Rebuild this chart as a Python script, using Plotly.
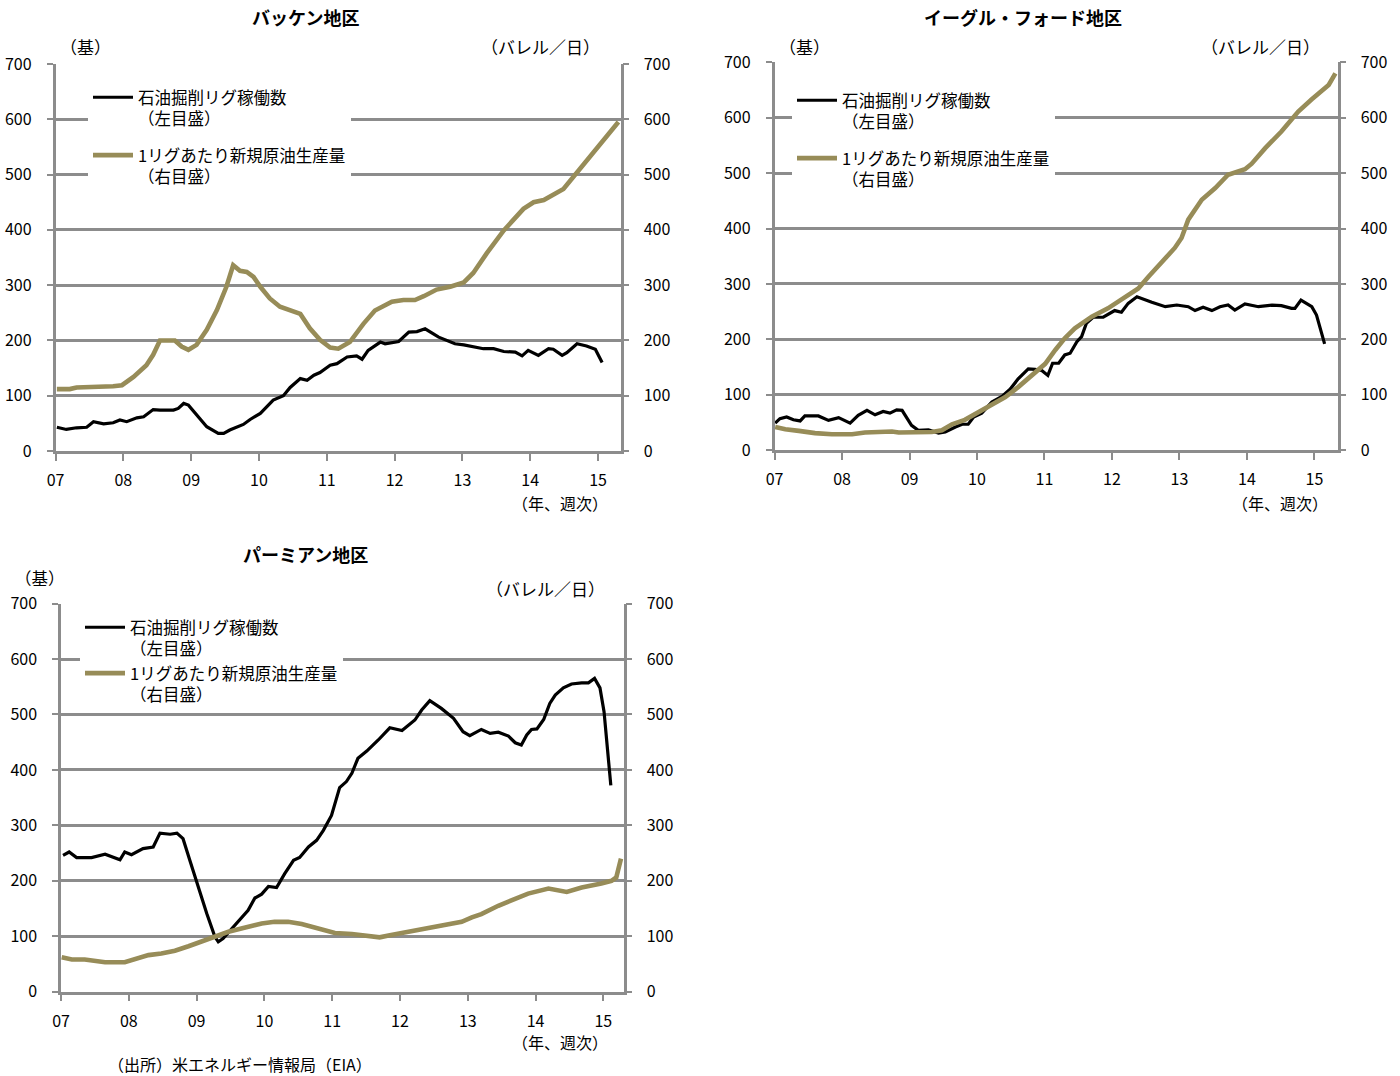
import plotly.graph_objects as go

# ---------------- data ----------------
# Bakken
bk_rig_x = [2007.02, 2007.16, 2007.31, 2007.46, 2007.56, 2007.71, 2007.85, 2007.95, 2008.05, 2008.20,
            2008.30, 2008.44, 2008.54, 2008.74, 2008.81, 2008.89, 2008.96, 2009.08, 2009.23, 2009.40,
            2009.48, 2009.57, 2009.77, 2009.87, 2010.02, 2010.21, 2010.36, 2010.46, 2010.61, 2010.71,
            2010.81, 2010.90, 2011.05, 2011.15, 2011.30, 2011.44, 2011.52, 2011.61, 2011.79, 2011.86,
            2012.06, 2012.21, 2012.33, 2012.45, 2012.65, 2012.89, 2013.02, 2013.31, 2013.46, 2013.61,
            2013.78, 2013.88, 2013.97, 2014.12, 2014.27, 2014.34, 2014.47, 2014.54, 2014.69, 2014.83,
            2014.96, 2015.06]
bk_rig_y = [43, 39, 42, 43, 53, 49, 51, 56, 53, 60,
            62, 75, 74, 74, 77, 86, 83, 65, 44, 32,
            32, 38, 48, 57, 68, 92, 100, 115, 131, 128,
            137, 142, 155, 158, 170, 172, 166, 182, 197, 194,
            198, 215, 216, 221, 206, 194, 192, 185, 185, 180,
            179, 172, 182, 173, 185, 184, 173, 178, 194, 190,
            184, 160]
bk_prod_x = [2007.02, 2007.21, 2007.31, 2007.56, 2007.66, 2007.85, 2007.98, 2008.15, 2008.34, 2008.44,
             2008.54, 2008.76, 2008.86, 2008.96, 2009.08, 2009.23, 2009.38, 2009.52, 2009.62, 2009.72,
             2009.82, 2009.92, 2010.02, 2010.16, 2010.31, 2010.46, 2010.61, 2010.75, 2010.90, 2011.05,
             2011.17, 2011.34, 2011.54, 2011.71, 2011.96, 2012.13, 2012.30, 2012.43, 2012.62, 2012.82,
             2013.02, 2013.16, 2013.36, 2013.61, 2013.90, 2014.05, 2014.20, 2014.49, 2014.69, 2014.88,
             2015.08, 2015.30]
bk_prod_y = [112, 112, 115, 115, 117, 117, 119, 134, 155, 174,
             200, 200, 189, 183, 192, 219, 255, 297, 336, 326,
             324, 315, 297, 276, 261, 254, 248, 222, 201, 187,
             185, 197, 230, 254, 270, 273, 273, 280, 292, 297,
             305, 322, 358, 399, 438, 450, 454, 474, 504, 530,
             561, 595]

# Eagle Ford
ef_rig_x = [2007.01, 2007.08, 2007.18, 2007.28, 2007.38, 2007.45, 2007.65, 2007.80, 2007.95, 2008.12,
            2008.24, 2008.37, 2008.49, 2008.61, 2008.71, 2008.81, 2008.89, 2009.03, 2009.13, 2009.28,
            2009.43, 2009.53, 2009.68, 2009.78, 2009.87, 2009.95, 2010.07, 2010.22, 2010.37, 2010.49,
            2010.61, 2010.76, 2010.86, 2010.96, 2011.05, 2011.12, 2011.21, 2011.30, 2011.38, 2011.48,
            2011.55, 2011.62, 2011.72, 2011.87, 2012.04, 2012.14, 2012.24, 2012.37, 2012.59, 2012.79,
            2012.96, 2013.13, 2013.23, 2013.35, 2013.48, 2013.60, 2013.72, 2013.82, 2013.97, 2014.17,
            2014.37, 2014.51, 2014.66, 2014.71, 2014.80, 2014.96, 2015.03, 2015.08, 2015.15]
ef_rig_y = [49, 57, 60, 55, 53, 62, 62, 54, 59, 49,
            63, 72, 64, 70, 67, 73, 72, 45, 36, 37,
            31, 33, 42, 47, 47, 60, 67, 87, 97, 110,
            129, 147, 146, 144, 135, 157, 157, 172, 175, 196,
            205, 229, 240, 240, 252, 249, 265, 277, 267, 259,
            262, 259, 252, 258, 252, 259, 262, 253, 264, 259,
            262, 261, 256, 256, 271, 259, 244, 223, 192]
ef_prod_x = [2007.01, 2007.16, 2007.36, 2007.60, 2007.85, 2008.15, 2008.34, 2008.54, 2008.74, 2008.84,
             2009.08, 2009.33, 2009.48, 2009.63, 2009.82, 2010.02, 2010.22, 2010.42, 2010.61, 2010.81,
             2011.01, 2011.16, 2011.30, 2011.45, 2011.70, 2011.94, 2012.19, 2012.39, 2012.54, 2012.74,
             2012.93, 2013.03, 2013.13, 2013.33, 2013.53, 2013.72, 2013.97, 2014.07, 2014.27, 2014.51,
             2014.76, 2014.96, 2015.21, 2015.31]
ef_prod_y = [42, 38, 35, 31, 29, 29, 32, 34, 34, 32,
             32, 33, 36, 47, 55, 69, 83, 96, 114, 135,
             156, 181, 202, 220, 241, 256, 277, 292, 313, 340,
             365, 383, 416, 452, 473, 497, 507, 517, 545, 575,
             611, 633, 659, 680]

# Permian
pm_rig_x = [2007.03, 2007.12, 2007.23, 2007.45, 2007.65, 2007.77, 2007.87, 2007.94, 2008.04, 2008.21,
            2008.36, 2008.46, 2008.61, 2008.71, 2008.80, 2008.90, 2009.02, 2009.15, 2009.27, 2009.32,
            2009.39, 2009.52, 2009.64, 2009.76, 2009.86, 2009.96, 2010.06, 2010.18, 2010.30, 2010.43,
            2010.52, 2010.65, 2010.77, 2010.87, 2010.99, 2011.04, 2011.11, 2011.21, 2011.29, 2011.38,
            2011.51, 2011.68, 2011.85, 2012.03, 2012.15, 2012.22, 2012.32, 2012.44, 2012.61, 2012.79,
            2012.93, 2013.03, 2013.20, 2013.33, 2013.45, 2013.60, 2013.70, 2013.79, 2013.87, 2013.94,
            2014.02, 2014.12, 2014.21, 2014.29, 2014.41, 2014.53, 2014.68, 2014.78, 2014.87, 2014.95,
            2015.01, 2015.06, 2015.11]
pm_rig_y = [246, 252, 242, 242, 248, 243, 238, 252, 247, 258,
            261, 286, 284, 286, 276, 237, 189, 141, 99, 90,
            96, 114, 129, 147, 169, 176, 190, 188, 213, 237,
            242, 261, 273, 291, 318, 340, 368, 379, 394, 421,
            434, 454, 476, 471, 484, 490, 508, 525, 511, 493,
            469, 462, 473, 466, 468, 461, 449, 445, 463, 473,
            474, 491, 520, 535, 548, 555, 557, 557, 565, 548,
            505, 436, 372]
pm_prod_x = [2007.01, 2007.16, 2007.35, 2007.50, 2007.65, 2007.94, 2008.09, 2008.29, 2008.48, 2008.68,
             2008.88, 2009.07, 2009.27, 2009.47, 2009.66, 2009.86, 2009.96, 2010.15, 2010.35, 2010.55,
             2010.74, 2010.94, 2011.04, 2011.29, 2011.53, 2011.70, 2011.85, 2012.03, 2012.22, 2012.52,
             2012.76, 2012.91, 2013.06, 2013.20, 2013.45, 2013.70, 2013.89, 2014.19, 2014.46, 2014.68,
             2014.83, 2014.97, 2015.12, 2015.19, 2015.26]
pm_prod_y = [62, 58, 58, 56, 53, 53, 58, 66, 69, 74,
             82, 90, 100, 108, 114, 120, 123, 126, 126, 122,
             116, 109, 106, 104, 100, 98, 102, 106, 110, 118,
             122, 126, 134, 140, 155, 168, 177, 186, 180, 188,
             191, 195, 200, 206, 240]

year_ticks = [2007, 2008, 2009, 2010, 2011, 2012, 2013, 2014, 2015]
year_labels = ["07", "08", "09", "10", "11", "12", "13", "14", "15"]
y_ticks = [0, 100, 200, 300, 400, 500, 600, 700]

titles = ["バッケン地区", "イーグル・フォード地区", "パーミアン地区"]
rig_name = "石油掘削リグ稼働数<br>（左目盛）"
prod_name = "1リグあたり新規原油生産量<br>（右目盛）"

# ---------------- styling ----------------
W, H = 1400, 1076
FONT = "Noto Sans CJK JP, Noto Sans, sans-serif"
GRID = "#8c8c8c"
BLACK = "#000000"
GOLD = "#978c58"


def px(x):
    return x / W


def py(y):
    return 1 - y / H


fig = go.Figure()

panels = [
    (bk_rig_x, bk_rig_y, bk_prod_x, bk_prod_y, (55.5, 620.7), (451, 64), 2015.334),
    (ef_rig_x, ef_rig_y, ef_prod_x, ef_prod_y, (774.5, 1337.7), (450.3, 62.2), 2015.344),
    (pm_rig_x, pm_rig_y, pm_prod_x, pm_prod_y, (61, 623.7), (991.7, 603.6), 2015.30),
]

legend_pos = [(88, 80), (792, 83), (80, 610)]
legend_gap = [12, 12, 0]

layout = dict(
    width=W, height=H,
    margin=dict(l=0, r=0, t=0, b=0, autoexpand=False),
    paper_bgcolor="white", plot_bgcolor="white",
    font=dict(family=FONT, size=16, color="#000"),
    showlegend=True,
)

for i, (rx, ry, prx, pry, xd, yd, xmax) in enumerate(panels):
    n = i + 1
    xa = "x" if n == 1 else f"x{n}"
    ya_l = "y" if n == 1 else f"y{2 * n - 1}"
    ya_r = f"y{2 * n}"
    leg = "legend" if n == 1 else f"legend{n}"

    fig.add_trace(go.Scatter(x=rx, y=ry, mode="lines", name=rig_name,
                             line=dict(color=BLACK, width=3.2), xaxis=xa, yaxis=ya_l,
                             legend=leg, legendgroup=f"r{n}", hoverinfo="skip"))
    fig.add_trace(go.Scatter(x=prx, y=pry, mode="lines", name=prod_name,
                             line=dict(color=GOLD, width=4.6), xaxis=xa, yaxis=ya_r,
                             legend=leg, legendgroup=f"p{n}", hoverinfo="skip"))

    xkey = "xaxis" if n == 1 else f"xaxis{n}"
    ylkey = "yaxis" if n == 1 else f"yaxis{2 * n - 1}"
    yrkey = f"yaxis{2 * n}"

    layout[xkey] = dict(
        domain=[px(xd[0]), px(xd[1])], anchor=ya_l, range=[2007, xmax],
        tickmode="array", tickvals=year_ticks, ticktext=year_labels,
        showgrid=False, zeroline=False, showline=True, linecolor=GRID, linewidth=2.5,
        ticks="outside", ticklen=7, tickwidth=2, tickcolor=GRID,
        ticklabelstandoff=6, tickfont=dict(size=16), automargin=False,
    )
    layout[ylkey] = dict(
        domain=[py(yd[0]), py(yd[1])], anchor=xa, range=[0, 700],
        tickmode="array", tickvals=y_ticks,
        showgrid=True, gridcolor=GRID, gridwidth=2.5, zeroline=False,
        showline=True, linecolor=GRID, linewidth=2.5,
        ticks="outside", ticklen=6, tickwidth=2, tickcolor=GRID,
        ticklabelstandoff=12, tickfont=dict(size=16), automargin=False,
    )
    layout[yrkey] = dict(
        overlaying=ya_l, side="right", anchor=xa, range=[0, 700],
        tickmode="array", tickvals=y_ticks, showgrid=False, zeroline=False,
        showline=True, linecolor=GRID, linewidth=2.5,
        ticks="outside", ticklen=6, tickwidth=2, tickcolor=GRID,
        ticklabelstandoff=11, tickfont=dict(size=16), automargin=False,
    )
    lx, ly = legend_pos[i]
    layout[leg] = dict(
        x=px(lx), y=py(ly), xanchor="left", yanchor="top",
        bgcolor="white", borderwidth=0, font=dict(size=16.5, family=FONT),
        valign="top", traceorder="grouped", tracegroupgap=legend_gap[i],
        itemwidth=40,
    )

fig.update_layout(**layout)

annos = [
    # titles
    (305, 17, "<b>" + titles[0] + "</b>", 18), (1023, 17, "<b>" + titles[1] + "</b>", 18),
    (305, 554, "<b>" + titles[2] + "</b>", 18),
    # unit labels
    (85, 47, "（基）", 17), (540, 47, "（バレル／日）", 17), (560, 503, "（年、週次）", 16),
    (805, 47, "（基）", 17), (1260, 47, "（バレル／日）", 17), (1280, 503, "（年、週次）", 16),
    (40, 578, "（基）", 16.5), (545, 588, "（バレル／日）", 17), (560, 1042, "（年、週次）", 16),
    (240, 1064, "（出所）米エネルギー情報局（EIA）", 16),
]
for x, y, t, s in annos:
    fig.add_annotation(x=px(x), y=py(y), xref="paper", yref="paper", text=t,
                       showarrow=False, xanchor="center", yanchor="middle",
                       font=dict(size=s, family=FONT, color="#000"))

fig.write_html("out.html",
               post_script="document.body.style.margin='0';document.body.style.overflow='hidden';")
